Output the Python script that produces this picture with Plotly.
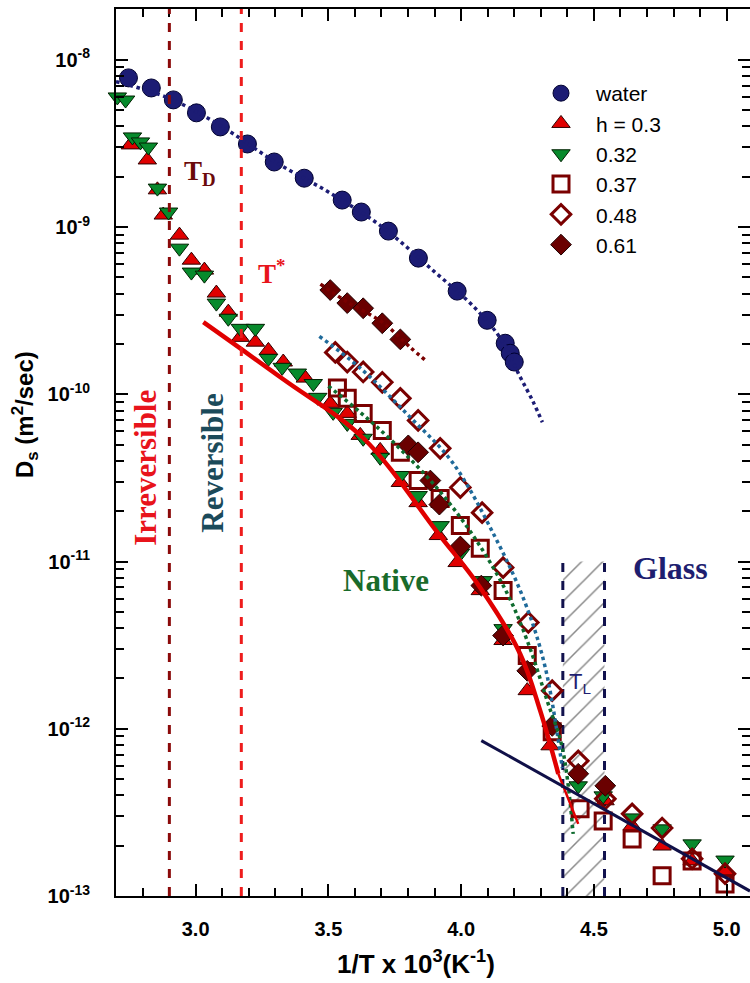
import plotly.graph_objects as go

# ---------------- data ----------------
water_x = [2.747, 2.833, 2.916, 3.003, 3.093, 3.195, 3.296, 3.409, 3.552, 3.624,
           3.726, 3.839, 3.985, 4.098, 4.166, 4.185, 4.200]
water_y = [7.80e-9, 6.79e-9, 5.76e-9, 4.82e-9, 3.97e-9, 3.14e-9, 2.45e-9, 1.96e-9,
           1.45e-9, 1.23e-9, 9.46e-10, 6.52e-10, 4.14e-10, 2.77e-10, 2.02e-10,
           1.76e-10, 1.56e-10]
water_fit_x = [2.70, 2.90, 3.10, 3.30, 3.50, 3.70, 3.90, 4.05, 4.15, 4.22, 4.27, 4.306]
water_fit_y = [7.41e-9, 5.89e-9, 3.98e-9, 2.45e-9, 1.62e-9, 1.01e-9, 5.40e-10,
               3.31e-10, 2.14e-10, 1.29e-10, 9.1e-11, 6.8e-11]

h030_x = [2.754, 2.818, 2.856, 2.878, 2.939, 2.984, 3.033, 3.078, 3.123, 3.168,
          3.225, 3.274, 3.330, 3.413, 3.507, 3.571, 3.620, 3.695, 3.771, 3.838,
          3.914, 3.985, 4.072, 4.158, 4.249, 4.335, 4.542, 4.644, 4.757, 4.870, 4.994]
h030_y = [3.10e-9, 2.52e-9, 1.67e-9, 1.18e-9, 8.95e-10, 6.34e-10, 5.53e-10, 4.03e-10,
          3.10e-10, 2.19e-10, 2.05e-10, 1.83e-10, 1.56e-10, 1.25e-10, 8.83e-11,
          7.69e-11, 5.68e-11, 4.62e-11, 2.97e-11, 2.25e-11, 1.43e-11, 9.86e-12,
          6.70e-12, 3.37e-12, 1.69e-12, 7.91e-13, 3.71e-13, 2.62e-13, 1.99e-13,
          1.62e-13, 1.41e-13]

h032_x = [2.705, 2.736, 2.762, 2.792, 2.822, 2.856, 2.898, 2.939, 2.984, 3.033,
          3.078, 3.123, 3.168, 3.225, 3.274, 3.326, 3.383, 3.443, 3.460, 3.518,
          3.571, 3.631, 3.695, 3.771, 3.838, 3.921, 3.997, 4.083, 4.158, 4.441,
          4.535, 4.644, 4.757, 4.870, 4.994]
h032_y = [6.00e-9, 5.75e-9, 3.46e-9, 3.23e-9, 3.01e-9, 1.71e-9, 1.23e-9, 7.48e-10,
          5.38e-10, 5.16e-10, 3.51e-10, 2.85e-10, 2.48e-10, 2.48e-10, 1.64e-10,
          1.45e-10, 1.34e-10, 1.16e-10, 9.59e-11, 7.80e-11, 6.70e-11, 5.46e-11,
          4.20e-11, 3.27e-11, 2.48e-11, 1.64e-11, 1.12e-11, 7.69e-12, 3.97e-12,
          4.56e-13, 3.97e-13, 2.93e-13, 2.52e-13, 2.05e-13, 1.64e-13]

h037_x = [3.534, 3.571, 3.631, 3.703, 3.771, 3.838, 3.921, 3.997, 4.072, 4.158,
          4.249, 4.343, 4.448, 4.535, 4.644, 4.757, 4.870, 4.994]
h037_y = [1.09e-10, 9.46e-11, 7.69e-11, 6.08e-11, 4.50e-11, 3.05e-11, 2.38e-11,
          1.64e-11, 1.20e-11, 6.70e-12, 2.74e-12, 9.59e-13, 3.32e-13, 2.81e-13,
          2.19e-13, 1.32e-13, 1.62e-13, 1.18e-13]
h037_fit_x = [3.500, 3.620, 3.745, 3.910, 4.053, 4.174, 4.253, 4.324, 4.381, 4.422]
h037_fit_y = [1.12e-10, 7.80e-11, 5.16e-11, 2.74e-11, 1.37e-11, 6.43e-12, 3.23e-12,
              1.47e-12, 7.69e-13, 2.35e-13]

h048_x = [3.526, 3.571, 3.631, 3.703, 3.771, 3.838, 3.921, 3.997, 4.079, 4.158,
          4.253, 4.343, 4.441, 4.543, 4.644, 4.757, 4.870, 4.994]
h048_y = [1.78e-10, 1.56e-10, 1.36e-10, 1.18e-10, 9.46e-11, 6.98e-11, 4.75e-11,
          2.77e-11, 1.96e-11, 9.20e-12, 4.32e-12, 1.69e-12, 6.43e-13, 3.81e-13,
          3.10e-13, 2.55e-13, 1.67e-13, 1.36e-13]
h048_fit_x = [3.466, 3.621, 3.801, 3.967, 4.129, 4.242, 4.317, 4.381]
h048_fit_y = [2.22e-10, 1.43e-10, 7.48e-11, 3.92e-11, 1.39e-11, 5.61e-12, 2.32e-12, 5.83e-13]

h061_x = [3.507, 3.571, 3.631, 3.703, 3.771, 3.801, 3.838, 3.884, 3.918, 3.997,
          4.076, 4.158, 4.249, 4.343, 4.441, 4.543]
h061_y = [4.20e-10, 3.51e-10, 3.27e-10, 2.66e-10, 2.13e-10, 4.95e-11, 4.50e-11,
          3.05e-11, 2.19e-11, 1.23e-11, 7.18e-12, 3.61e-12, 2.22e-12, 1.04e-12,
          5.38e-13, 4.56e-13]
h061_fit_x = [3.470, 3.571, 3.703, 3.808, 3.869]
h061_fit_y = [4.56e-10, 3.56e-10, 2.70e-10, 1.91e-10, 1.58e-10]

native_fit_x = [3.029, 3.330, 3.632, 3.914, 4.072, 4.222, 4.298, 4.366]
native_fit_y = [2.70e-10, 1.23e-10, 5.46e-11, 1.47e-11, 6.98e-12, 2.81e-12, 1.28e-12, 5.38e-13]
native_tail_x = [4.366, 4.441]
native_tail_y = [5.38e-13, 2.70e-13]

glass_fit_x = [4.076, 5.088]
glass_fit_y = [8.5e-13, 1.07e-13]

t_d = 2.901          # T_D line
t_star = 3.172       # T* line
t_l_band = [4.383, 4.540]
t_l_top = 1.0e-11

x_ticks = [3.0, 3.5, 4.0, 4.5, 5.0]
y_exps = [-13, -12, -11, -10, -9, -8]

# ---------------- colours ----------------
C_WATER = "#1c1c74"
C_RED = "#e00000"
C_GREEN = "#078a2c"
C_DRED = "#7a0000"
C_DIAM = "#6a0000"
C_NAVY = "#12124e"

fig = go.Figure()

# hatched T_L band
bx = [t_l_band[0], t_l_band[1], t_l_band[1], t_l_band[0], t_l_band[0]]
by = [1e-13, 1e-13, t_l_top, t_l_top, 1e-13]
fig.add_trace(go.Scatter(x=bx, y=by, mode="none", fill="toself",
                         fillcolor="rgba(0,0,0,0)",
                         fillpattern=dict(shape="/", fgcolor="#111111",
                                          bgcolor="rgba(0,0,0,0)", size=15, solidity=0.1),
                         showlegend=False, hoverinfo="skip"))
for xb in t_l_band:
    fig.add_trace(go.Scatter(x=[xb, xb], y=[1e-13, t_l_top], mode="lines",
                             line=dict(color=C_NAVY, width=3, dash="dash"),
                             showlegend=False, hoverinfo="skip"))

# data markers
fig.add_trace(go.Scatter(x=water_x, y=water_y, mode="markers", name="water", legendrank=1,
                         marker=dict(symbol="circle", size=18, color=C_WATER,
                                     line=dict(color="#000030", width=1))))
fig.add_trace(go.Scatter(x=h030_x, y=h030_y, mode="markers", name="h = 0.3", legendrank=2,
                         cliponaxis=False,
                         marker=dict(symbol="triangle-up", size=16, color=C_RED,
                                     line=dict(color="#300000", width=1))))
fig.add_trace(go.Scatter(x=h032_x, y=h032_y, mode="markers", name="0.32", legendrank=3,
                         cliponaxis=False,
                         marker=dict(symbol="triangle-down", size=16, color=C_GREEN,
                                     line=dict(color="#002000", width=1))))
fig.add_trace(go.Scatter(x=h037_x, y=h037_y, mode="markers", name="0.37", legendrank=4,
                         marker=dict(symbol="square-open", size=16, color=C_DRED,
                                     line=dict(width=3))))
fig.add_trace(go.Scatter(x=h048_x, y=h048_y, mode="markers", name="0.48", legendrank=5,
                         marker=dict(symbol="diamond-open", size=15, color=C_DRED,
                                     line=dict(width=3))))
fig.add_trace(go.Scatter(x=h061_x, y=h061_y, mode="markers", name="0.61", legendrank=6,
                         marker=dict(symbol="diamond", size=16, color=C_DIAM,
                                     line=dict(color="#200000", width=1))))

# fit curves
def fit(x, y, color, width, dash, shape="spline"):
    fig.add_trace(go.Scatter(x=x, y=y, mode="lines", showlegend=False, hoverinfo="skip",
                             line=dict(color=color, width=width, dash=dash, shape=shape)))

fit(water_fit_x, water_fit_y, "#1c1c74", 3.5, "dot")
fit(h061_fit_x, h061_fit_y, "#7a0000", 3.5, "dot")
fit(h048_fit_x, h048_fit_y, "#1f6a9a", 3.5, "dot")
fit(h037_fit_x, h037_fit_y, "#0e6b2e", 3.5, "dot")
fit(native_fit_x, native_fit_y, "#e00000", 4.5, "solid")
fit(native_tail_x, native_tail_y, "#e00000", 2.5, "solid", "linear")
fit(glass_fit_x, glass_fit_y, "#101048", 3, "solid", "linear")

# vertical lines T_D and T*
fig.add_shape(type="line", xref="x", yref="paper", x0=t_d, x1=t_d, y0=0, y1=1,
              line=dict(color="#8b0a0a", width=3, dash="dash"))
fig.add_shape(type="line", xref="x", yref="paper", x0=t_star, x1=t_star, y0=0, y1=1,
              line=dict(color="#ee1c1c", width=3, dash="dash"))

SERIF = "Liberation Serif, Times New Roman, serif"
SANS = "Liberation Sans, Arial, sans-serif"

def label(text, x, ylog, color, size, family=SERIF, bold=True, angle=0):
    fig.add_annotation(text=text, x=x, y=ylog, xref="x", yref="y", showarrow=False,
                       textangle=angle, xanchor="center", yanchor="middle",
                       font=dict(family=family, size=size, color=color,
                                 weight="bold" if bold else "normal"))

label("Irreversible", 2.811, -10.437, "#e8141b", 31, angle=-90)
label("Reversible", 3.063, -10.413, "#1b4a5a", 31, angle=-90)
label("T<sub>D</sub>", 3.015, -8.677, "#6b0a0a", 27)
label("T<sup>*</sup>", 3.285, -9.269, "#e8141b", 27)
label("Native", 3.718, -11.114, "#1a6b2a", 31)
label("Glass", 4.787, -11.036, "#1e1e70", 32)
label("T<sub>L</sub>", 4.448, -11.725, "#1e1e70", 22, family=SANS, bold=False)

# axis titles
fig.add_annotation(text="D<sub>s</sub> (m<sup>2</sup>/sec)", xref="paper", yref="paper",
                   x=(25 - 116) / 634, y=(896 - 415) / 887, showarrow=False, textangle=-90,
                   xanchor="center", yanchor="middle",
                   font=dict(family=SANS, size=24, color="black", weight="bold"))
fig.add_annotation(text="1/T x 10<sup>3</sup>(K<sup>-1</sup>)", xref="paper", yref="paper",
                   x=(416 - 116) / 634, y=(896 - 962) / 887, showarrow=False,
                   xanchor="center", yanchor="middle",
                   font=dict(family=SANS, size=26, color="black", weight="bold"))

minor_y = [m * 10.0 ** e for e in range(-13, -7) for m in range(2, 10)]

fig.update_xaxes(range=[2.70, 5.088], showline=True, linecolor="black", linewidth=2,
                 mirror="allticks", ticks="inside", ticklen=12, tickwidth=1.5,
                 tickcolor="black", tickmode="array", tickvals=x_ticks,
                 ticktext=[f"{v:.1f}" for v in x_ticks], showgrid=False, zeroline=False,
                 ticklabelstandoff=14,
                 tickfont=dict(family=SANS, size=20, color="black", weight="bold"),
                 minor=dict(ticks="inside", ticklen=8, tickwidth=1.5, tickcolor="black",
                            dtick=0.1, tick0=2.7, showgrid=False))
fig.update_yaxes(type="log", range=[-13, -7.696], showline=True, linecolor="black",
                 linewidth=2, mirror="allticks", ticks="inside", ticklen=12, tickwidth=1.5,
                 tickcolor="black", tickmode="array",
                 tickvals=[10.0 ** e for e in y_exps],
                 ticktext=[f"10<sup>{e}</sup>" for e in y_exps], showgrid=False,
                 zeroline=False, ticklabelstandoff=20,
                 tickfont=dict(family=SANS, size=20, color="black", weight="bold"),
                 minor=dict(ticks="inside", ticklen=8, tickwidth=1.5, tickcolor="black",
                            tickmode="array", tickvals=minor_y, showgrid=False))

fig.update_layout(width=750, height=983, margin=dict(l=116, r=0, t=9, b=87, autoexpand=False),
                  paper_bgcolor="white", plot_bgcolor="white",
                  legend=dict(x=(526 - 116) / 634, y=1 - (73 - 9) / 887, xanchor="left",
                              yanchor="top", bgcolor="rgba(0,0,0,0)",
                              font=dict(family=SANS, size=21, color="black"),
                              itemwidth=60, tracegroupgap=0))

fig.write_html("out.html", config={"displayModeBar": False},
               post_script="document.body.style.margin='0';document.body.style.padding='0';")
